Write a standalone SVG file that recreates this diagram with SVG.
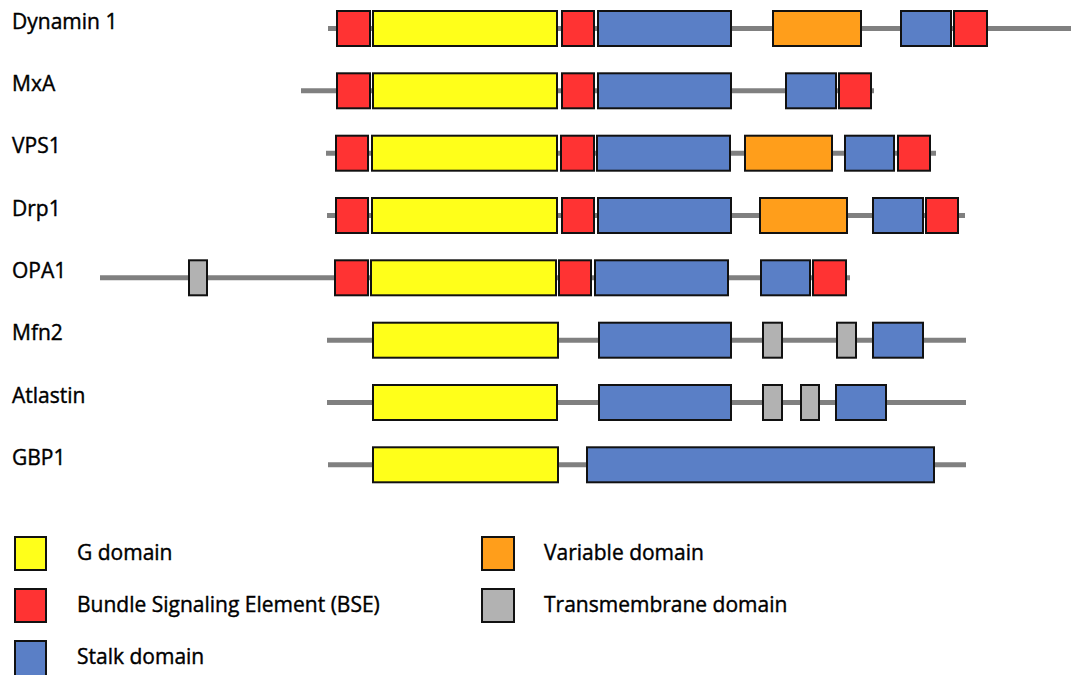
<svg xmlns="http://www.w3.org/2000/svg" width="1071" height="675" viewBox="0 0 1071 675">
<style>
text{font-family:"Open Sans","Liberation Sans",sans-serif;font-size:21px;fill:#000;stroke:#000;stroke-width:0.4}
.bb{stroke:#808080;stroke-width:5;fill:none}
.y,.r,.b,.o,.g{stroke:#111;stroke-width:2}
.y{fill:#FFFF1A}.r{fill:#FF3333}.b{fill:#5A7FC6}.o{fill:#FF9E1B}.g{fill:#B2B2B2}
</style>
<rect width="1071" height="675" fill="#fff"/>
<g id="dynamin1" transform="translate(0,11)">
<text x="12" y="17.5">Dynamin 1</text>
<line class="bb" x1="328" y1="17.5" x2="1071" y2="17.5"/>
<rect class="r" x="337" y="0" width="33" height="35"/>
<rect class="y" x="373" y="0" width="184" height="35"/>
<rect class="r" x="562" y="0" width="32" height="35"/>
<rect class="b" x="598" y="0" width="133" height="35"/>
<rect class="o" x="773" y="0" width="88" height="35"/>
<rect class="b" x="901" y="0" width="50" height="35"/>
<rect class="r" x="954" y="0" width="33" height="35"/>
</g>
<g id="mxa" transform="translate(0,73.3)">
<text x="12" y="17.5">MxA</text>
<line class="bb" x1="301" y1="17.5" x2="874" y2="17.5"/>
<rect class="r" x="337" y="0" width="33" height="35"/>
<rect class="y" x="373" y="0" width="184" height="35"/>
<rect class="r" x="562" y="0" width="32" height="35"/>
<rect class="b" x="598" y="0" width="133" height="35"/>
<rect class="b" x="786" y="0" width="50" height="35"/>
<rect class="r" x="839" y="0" width="32" height="35"/>
</g>
<g id="vps1" transform="translate(0,135.7)">
<text x="12" y="17.5">VPS1</text>
<line class="bb" x1="326" y1="17.5" x2="936" y2="17.5"/>
<rect class="r" x="336" y="0" width="32" height="35"/>
<rect class="y" x="372" y="0" width="185" height="35"/>
<rect class="r" x="561" y="0" width="33" height="35"/>
<rect class="b" x="597" y="0" width="133" height="35"/>
<rect class="o" x="745" y="0" width="87" height="35"/>
<rect class="b" x="845" y="0" width="49" height="35"/>
<rect class="r" x="898" y="0" width="32" height="35"/>
</g>
<g id="drp1" transform="translate(0,198)">
<text x="12" y="17.5">Drp1</text>
<line class="bb" x1="327" y1="17.5" x2="965" y2="17.5"/>
<rect class="r" x="336" y="0" width="32" height="35"/>
<rect class="y" x="372" y="0" width="185" height="35"/>
<rect class="r" x="562" y="0" width="32" height="35"/>
<rect class="b" x="598" y="0" width="133" height="35"/>
<rect class="o" x="760" y="0" width="87" height="35"/>
<rect class="b" x="873" y="0" width="50" height="35"/>
<rect class="r" x="926" y="0" width="32" height="35"/>
</g>
<g id="opa1" transform="translate(0,260.3)">
<text x="12" y="17.5">OPA1</text>
<line class="bb" x1="100" y1="17.5" x2="850" y2="17.5"/>
<rect class="g" x="189" y="0" width="18" height="35"/>
<rect class="r" x="335" y="0" width="33" height="35"/>
<rect class="y" x="371" y="0" width="185" height="35"/>
<rect class="r" x="559" y="0" width="32" height="35"/>
<rect class="b" x="595" y="0" width="133" height="35"/>
<rect class="b" x="761" y="0" width="49" height="35"/>
<rect class="r" x="813" y="0" width="33" height="35"/>
</g>
<g id="mfn2" transform="translate(0,322.7)">
<text x="12" y="17.5">Mfn2</text>
<line class="bb" x1="327" y1="17.5" x2="966" y2="17.5"/>
<rect class="y" x="373" y="0" width="185" height="35"/>
<rect class="b" x="599" y="0" width="132" height="35"/>
<rect class="g" x="763" y="0" width="19" height="35"/>
<rect class="g" x="837" y="0" width="19" height="35"/>
<rect class="b" x="873" y="0" width="50" height="35"/>
</g>
<g id="atlastin" transform="translate(0,385)">
<text x="12" y="17.5">Atlastin</text>
<line class="bb" x1="327" y1="17.5" x2="966" y2="17.5"/>
<rect class="y" x="373" y="0" width="184" height="35"/>
<rect class="b" x="599" y="0" width="132" height="35"/>
<rect class="g" x="763" y="0" width="19" height="35"/>
<rect class="g" x="801" y="0" width="18" height="35"/>
<rect class="b" x="836" y="0" width="50" height="35"/>
</g>
<g id="gbp1" transform="translate(0,447.3)">
<text x="12" y="17.5">GBP1</text>
<line class="bb" x1="328" y1="17.5" x2="966" y2="17.5"/>
<rect class="y" x="373" y="0" width="185" height="35"/>
<rect class="b" x="587" y="0" width="347" height="35"/>
</g>
<g id="legend">
<rect class="y" x="15" y="537" width="31" height="33"/>
<text x="77" y="560">G domain</text>
<rect class="r" x="15" y="589" width="31" height="33"/>
<text x="77" y="612">Bundle Signaling Element (BSE)</text>
<rect class="b" x="15" y="641" width="31" height="36"/>
<text x="77" y="664">Stalk domain</text>
<rect class="o" x="482" y="537" width="32" height="33"/>
<text x="544" y="560">Variable domain</text>
<rect class="g" x="482" y="589" width="32" height="33"/>
<text x="544" y="612">Transmembrane domain</text>
</g>
</svg>
